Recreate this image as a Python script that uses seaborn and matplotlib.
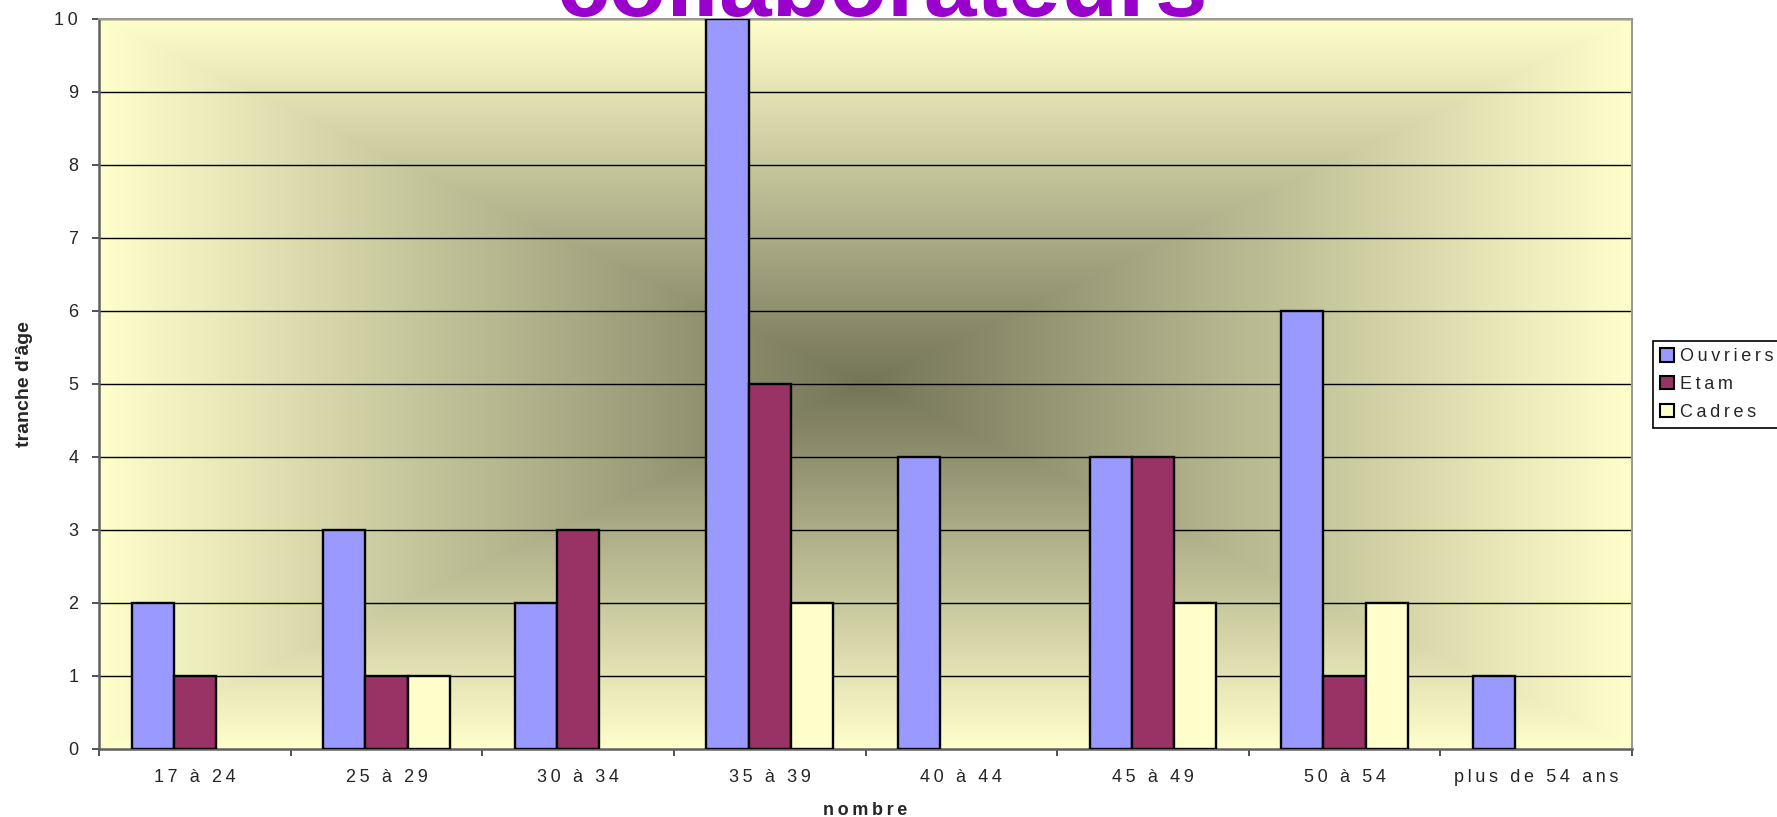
import numpy as np
import pandas as pd
import matplotlib
matplotlib.use("Agg")
import matplotlib.pyplot as plt
import seaborn as sns

# Age brackets and headcounts per staff category
tranches = ["17 à 24", "25 à 29", "30 à 34", "35 à 39",
            "40 à 44", "45 à 49", "50 à 54", "plus de 54 ans"]
ouvriers = [2, 3, 2, 10, 4, 4, 6, 1]
etam = [1, 1, 3, 5, 0, 4, 1, 0]
cadres = [0, 1, 0, 2, 0, 2, 2, 0]
categories = ["Ouvriers", "Etam", "Cadres"]
couleurs = ["#9999FF", "#993366", "#FFFFCC"]
yticks = list(range(0, 11))

sns.set_style("white")
plt.rcParams["font.family"] = ["Liberation Sans", "DejaVu Sans"]

THIN = "\u2009"


def spaced(s):
    """Widen the tracking of a label the way the spreadsheet renders it."""
    return THIN.join(s)


rows = []
for i, t in enumerate(tranches):
    for cat, vals in zip(categories, [ouvriers, etam, cadres]):
        rows.append({"tranche": t, "categorie": cat, "nombre": vals[i]})
df = pd.DataFrame(rows)

W, H = 1777, 817
fig = plt.figure(figsize=(W / 100, H / 100), dpi=100)
fig.patch.set_facecolor("white")
ax = fig.add_axes([99 / W, 1 - 748.5 / H, (1632 - 99) / W, (748.5 - 19) / H])

# Rectangular "from centre" gradient behind the plot area
ny, nx = 400, 800
u = np.abs(np.linspace(-1, 1, nx))[None, :]
v = np.abs(np.linspace(-1, 1, ny))[:, None]
t = np.maximum(u, v)
dark = np.array([0x74, 0x74, 0x58]) / 255.0
light = np.array([0xFF, 0xFF, 0xCC]) / 255.0
grad = dark[None, None, :] * (1 - t[..., None]) + light[None, None, :] * t[..., None]
ax.imshow(grad, extent=(-0.5, len(tranches) - 0.5, 0, 10), aspect="auto",
          zorder=-10, interpolation="bilinear")

sns.barplot(data=df, x="tranche", y="nombre", hue="categorie",
            order=tranches, hue_order=categories, palette=couleurs,
            saturation=1, width=0.66, edgecolor="black", linewidth=1.7,
            errorbar=None, ax=ax, zorder=3)

for p in ax.patches:
    if p.get_height() == 0:
        p.set_linewidth(0)

ax.set_xlim(-0.5, len(tranches) - 0.5)
ax.set_ylim(0, 10)
ax.set_yticks(yticks)
ax.set_yticklabels([spaced(str(y)) for y in yticks], fontsize=13)

# Category ticks sit on the boundaries between groups
ax.set_xticks(np.arange(-0.5, len(tranches), 1.0), minor=False)
ax.set_xticklabels([])
ax.set_xticks(np.arange(len(tranches)), minor=True)
ax.set_xticklabels([spaced(s) for s in tranches], minor=True, fontsize=13)
ax.tick_params(axis="x", which="minor", length=0, pad=15)
ax.tick_params(axis="x", which="major", length=5, width=1.2, color="#333333",
               direction="out", bottom=True)
ax.tick_params(axis="y", length=5, width=1.2, color="#333333",
               direction="out", left=True, pad=10)

ax.grid(False)
for y in yticks[1:]:
    ax.axhline(y, color="black", lw=1.0, zorder=1)

for side in ["left", "bottom"]:
    ax.spines[side].set_color("#606060")
    ax.spines[side].set_linewidth(1.8)
for side in ["top", "right"]:
    ax.spines[side].set_color("#9a9a9a")
    ax.spines[side].set_linewidth(1.5)
    ax.spines[side].set_visible(True)

ax.set_xlabel(spaced("nombre"), fontsize=13, fontweight="bold", labelpad=10)
ax.set_ylabel("tranche d'âge", fontsize=14, fontweight="bold", labelpad=0)
ax.yaxis.set_label_coords(-66 / (1632 - 99), 0.5)
ax.xaxis.set_label_coords(0.5, -(815 - 748.5) / (748.5 - 19))
ax.xaxis.label.set_va("baseline")

handles, labels = ax.get_legend_handles_labels()
leg = ax.legend(handles, [spaced(l) for l in labels],
                loc="upper left", bbox_to_anchor=(1653 / W, 1 - 341 / H),
                bbox_transform=fig.transFigure, frameon=True, fancybox=False,
                edgecolor="black", facecolor="white", framealpha=1,
                fontsize=13, handlelength=0.75, handleheight=0.75,
                handletextpad=0.35, labelspacing=0.6, borderpad=0.4,
                borderaxespad=0)
leg.get_frame().set_linewidth(1.2)
for h in leg.legend_handles:
    h.set_edgecolor("black")
    h.set_linewidth(1.5)

fig.text(882 / W, 1 - 16 / H, "collaborateurs", ha="center", va="baseline",
         fontsize=68, fontweight="bold", color="#9900CC")

fig.savefig("out.png", dpi=100)
